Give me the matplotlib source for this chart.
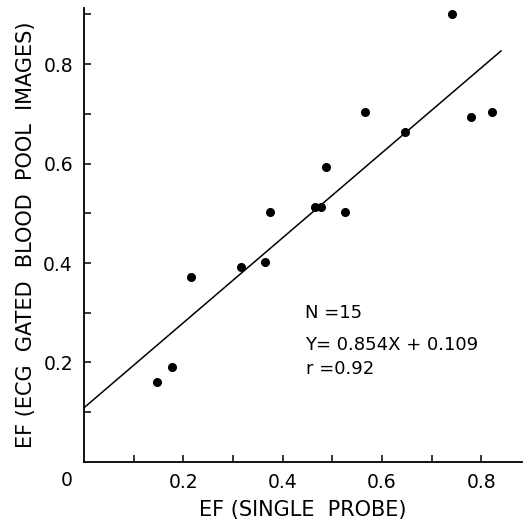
import numpy as np
import matplotlib
matplotlib.use("Agg")
import matplotlib.pyplot as plt
from matplotlib.ticker import FixedLocator

# EF values
ef_probe = [0.148, 0.178, 0.216, 0.317, 0.364, 0.375, 0.466, 0.477, 0.487,
            0.526, 0.567, 0.646, 0.741, 0.780, 0.821]
ef_pool = [0.160, 0.190, 0.371, 0.392, 0.402, 0.502, 0.512, 0.512, 0.593,
           0.502, 0.703, 0.663, 0.901, 0.694, 0.704]

slope = 0.854
intercept = 0.109
fit_x = [0.0, 0.84]

xticklabels = ["0.2", "0.4", "0.6", "0.8"]
yticklabels = ["0.2", "0.4", "0.6", "0.8"]

plt.rcParams["font.family"] = "DejaVu Sans"

fig = plt.figure(figsize=(5.25, 5.22), dpi=100)
ax = fig.add_axes([0.16, 0.115, 0.834, 0.87])

ax.plot(ef_probe, ef_pool, "o", color="black", markersize=5.5)
fx = np.array(fit_x)
ax.plot(fx, slope * fx + intercept, color="black", linewidth=1.1)

ax.set_xlim(0, 0.882)
ax.set_ylim(0, 0.913)

for s in ["top", "right"]:
    ax.spines[s].set_visible(False)
for s in ["left", "bottom"]:
    ax.spines[s].set_linewidth(1.3)

ax.xaxis.set_major_locator(FixedLocator([0.2, 0.4, 0.6, 0.8]))
ax.yaxis.set_major_locator(FixedLocator([0.2, 0.4, 0.6, 0.8]))
ax.set_xticklabels(xticklabels)
ax.set_yticklabels(yticklabels)
ax.xaxis.set_minor_locator(FixedLocator([0.1, 0.3, 0.5, 0.7]))
ax.yaxis.set_minor_locator(FixedLocator([0.1, 0.3, 0.5, 0.7, 0.9]))
ax.tick_params(which="both", direction="in", length=5, width=1.1,
               labelsize=13.5, pad=8)

# origin label shared by both axes
ax.text(-0.022, -0.018, "0", transform=ax.transData, ha="right", va="top",
        fontsize=13.5)

ax.set_xlabel("EF (SINGLE  PROBE)", fontsize=15, labelpad=6)
ax.set_ylabel("EF (ECG  GATED  BLOOD  POOL  IMAGES)", fontsize=15, labelpad=5)

ax.text(0.445, 0.30, "N =15", fontsize=13, va="center")
ax.text(0.445, 0.235, "Y= 0.854X + 0.109", fontsize=13, va="center")
ax.text(0.448, 0.186, "r =0.92", fontsize=13, va="center")

fig.savefig("out.png", dpi=100)
